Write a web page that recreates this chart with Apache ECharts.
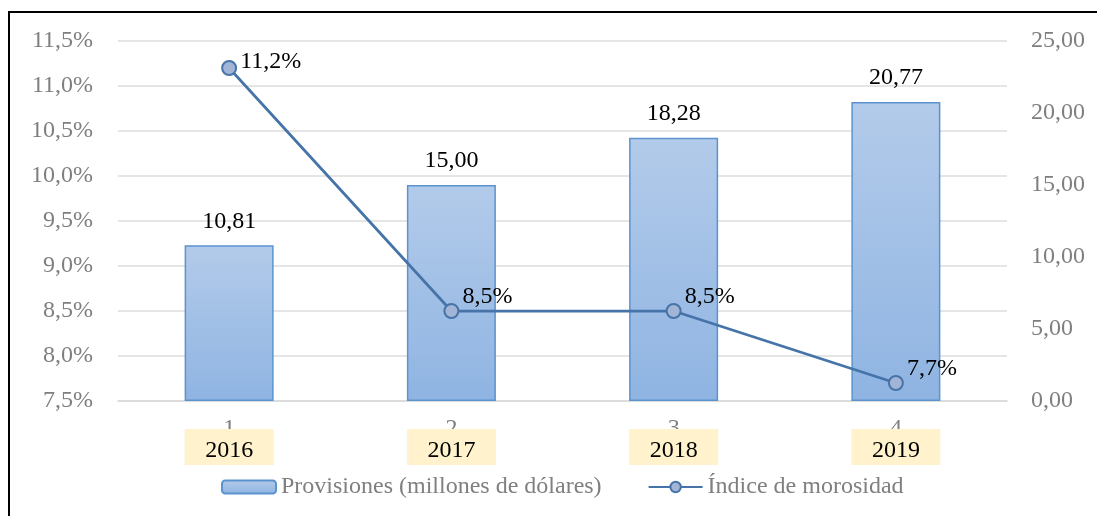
<!DOCTYPE html>
<html>
<head>
<meta charset="utf-8">
<script src="https://cdn.jsdelivr.net/npm/echarts@6/dist/echarts.min.js"></script>
<style>
  html, body { margin: 0; padding: 0; background: #fff; }
  #chart { width: 1097px; height: 516px; }
</style>
</head>
<body>
<div id="chart"></div>
<script>
// Chart data
const indexLabels = ['1', '2', '3', '4'];
const years = ['2016', '2017', '2018', '2019'];
const provisiones = [10.81, 15.00, 18.28, 20.77];      // millones de dólares
const morosidad = [11.2, 8.5, 8.5, 7.7];               // %
const seriesNames = ['Provisiones (millones de dólares)', 'Índice de morosidad'];

const FONT = '"Liberation Serif", "Times New Roman", serif';
const FS = 24;
const GRAY = '#7f7f7f';
const comma = (v, d) => v.toFixed(d).replace('.', ',');

// The first point sits near the top edge, so its label is nudged closer to the marker
const lineData = morosidad.map((v, i) =>
  i === 0 ? { value: v, label: { offset: [0, -6] } } : v);

const chart = echarts.init(document.getElementById('chart'));
chart.setOption({
  animation: false,
  textStyle: { fontFamily: FONT },
  graphic: [{
    type: 'rect',
    shape: { x: 9, y: 12, width: 1200, height: 700 },
    style: { fill: 'none', stroke: '#000', lineWidth: 2 },
    silent: true
  }],
  grid: { left: 118, right: 90, top: 41, bottom: 115 },
  legend: {
    bottom: 12,
    left: 216,
    itemWidth: 54,
    itemHeight: 13,
    itemGap: 46,
    textStyle: { fontFamily: FONT, fontSize: FS, color: GRAY },
    data: seriesNames
  },
  xAxis: [{
    type: 'category',
    data: indexLabels,
    position: 'bottom',
    axisLine: { lineStyle: { color: '#d9d9d9', width: 1.5 } },
    axisTick: { show: false },
    axisLabel: { fontFamily: FONT, fontSize: FS, color: GRAY, margin: 16 }
  }, {
    type: 'category',
    data: years,
    position: 'bottom',
    axisLine: { show: false },
    axisTick: { show: false },
    axisLabel: {
      margin: 28,
      formatter: v => '{y|' + v + '}',
      rich: {
        y: {
          fontFamily: FONT, fontSize: FS, color: '#000',
          backgroundColor: '#FFF2CC',
          width: 89, height: 28, padding: [8, 0, 0, 0], align: 'center'
        }
      }
    }
  }],
  yAxis: [{
    type: 'value',
    min: 7.5, max: 11.5, interval: 0.5,
    axisLine: { show: false },
    axisTick: { show: false },
    splitLine: { lineStyle: { color: '#dcdcdc', width: 1.5 } },
    axisLabel: { fontFamily: FONT, fontSize: FS, color: GRAY, margin: 25, formatter: v => comma(v, 1) + '%' }
  }, {
    type: 'value',
    min: 0, max: 25, interval: 5,
    axisLine: { show: false },
    axisTick: { show: false },
    splitLine: { show: false },
    axisLabel: { fontFamily: FONT, fontSize: FS, color: GRAY, margin: 24, formatter: v => comma(v, 2) }
  }],
  series: [{
    name: seriesNames[0],
    type: 'bar',
    yAxisIndex: 1,
    barWidth: 89,
    data: provisiones,
    itemStyle: {
      color: new echarts.graphic.LinearGradient(0, 0, 0, 1, [
        { offset: 0, color: '#B3CBEA' },
        { offset: 1, color: '#8FB4E2' }
      ]),
      borderColor: '#5B93CF',
      borderWidth: 1.5
    },
    label: {
      show: true, position: 'top', distance: 12,
      fontFamily: FONT, fontSize: FS, color: '#000',
      formatter: p => comma(p.value, 2)
    },
    z: 2
  }, {
    name: seriesNames[1],
    type: 'line',
    yAxisIndex: 0,
    data: lineData,
    symbol: 'circle',
    symbolSize: 14,
    lineStyle: { color: '#4674A9', width: 2.75 },
    itemStyle: { color: '#A2B5D6', borderColor: '#4674A9', borderWidth: 2 },
    label: {
      show: true, position: 'right', distance: 3, offset: [0, -14],
      fontFamily: FONT, fontSize: FS, color: '#000',
      formatter: p => comma(p.value, 1) + '%'
    },
    z: 5
  }]
});
</script>
</body>
</html>
